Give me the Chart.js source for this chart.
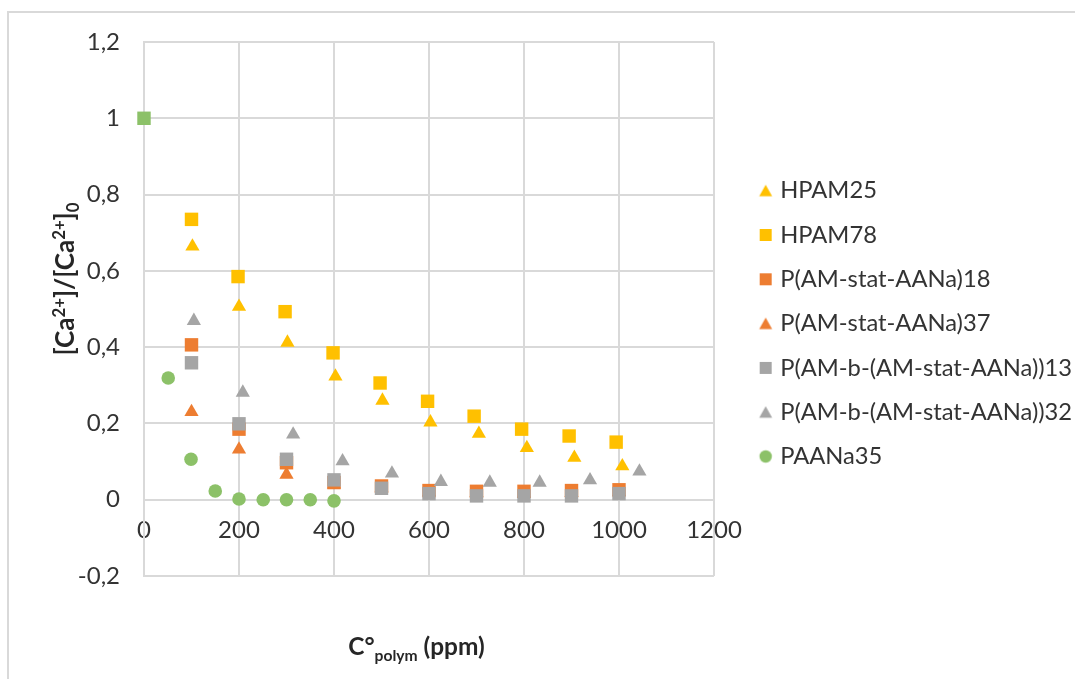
<!DOCTYPE html>
<html><head><meta charset="utf-8">
<script src="https://cdn.jsdelivr.net/npm/chart.js@4.4.1/dist/chart.umd.min.js"></script>
<style>html,body{margin:0;padding:0;background:#fff;}#wrap{position:relative;width:1075px;height:679px;}</style>
</head><body><div id="wrap"><canvas id="c"></canvas></div>
<script>
// ---------- data ----------
const seriesNames = ['HPAM25', 'HPAM78', 'P(AM-stat-AANa)18', 'P(AM-stat-AANa)37',
  'P(AM-b-(AM-stat-AANa))13', 'P(AM-b-(AM-stat-AANa))32', 'PAANa35'];
const hpam25X = [102, 200, 302, 403, 502, 603, 705, 806, 906, 1007];
const hpam25Y = [0.664, 0.506, 0.412, 0.323, 0.260, 0.203, 0.173, 0.136, 0.110, 0.088];
const hpam78X = [100, 198, 297, 398, 497, 597, 695, 795, 895, 994];
const hpam78Y = [0.735, 0.585, 0.493, 0.385, 0.306, 0.258, 0.219, 0.185, 0.167, 0.151];
const stat18X = [100, 200, 300, 400, 500, 600, 700, 800, 900, 1000];
const stat18Y = [0.406, 0.185, 0.097, 0.045, 0.036, 0.024, 0.022, 0.022, 0.024, 0.026];
const stat37X = [100, 200, 300, 400, 500, 600, 700, 800, 900, 1000];
const stat37Y = [0.230, 0.132, 0.066, 0.040, 0.030, 0.020, 0.018, 0.016, 0.018, 0.020];
const block13X = [100, 200, 300, 400, 500, 600, 700, 800, 900, 1000];
const block13Y = [0.359, 0.199, 0.106, 0.052, 0.030, 0.016, 0.010, 0.010, 0.010, 0.016];
const block32X = [105, 208, 314, 418, 522, 625, 728, 833, 939, 1043];
const block32Y = [0.469, 0.281, 0.171, 0.101, 0.069, 0.047, 0.045, 0.045, 0.051, 0.074];
const paanaX = [51, 99, 150, 200, 251, 300, 350, 400];
const paanaY = [0.319, 0.106, 0.023, 0.002, 0.000, 0.000, 0.000, -0.003];
const startX = [0];
const startY = [1];
const xTickValues = [0, 200, 400, 600, 800, 1000, 1200];
const yTickValues = [-0.2, 0, 0.2, 0.4, 0.6, 0.8, 1, 1.2];

// ---------- styling ----------
const YELLOW = '#FFC000', ORANGE = '#ED7D31', GREY = '#A5A5A5', GREEN = '#8CC168';
const GRID = '#d9d9d9';
const TEXT = '#333333';
const FAMILY = 'Lato, "Open Sans", sans-serif';
const CANVAS_W = 1075, PLOT_RIGHT = 714, PLOT_LEFT = 144, PLOT_TOP = 42, PLOT_BOTTOM = 576;

const mctx = document.createElement('canvas').getContext('2d');
function fitSize(text, weight, target) {
  mctx.font = weight + ' 100px ' + FAMILY;
  return 100 * target / mctx.measureText(text).width;
}
const legendFS = fitSize('P(AM-b-(AM-stat-AANa))13', 'normal', 292);
const tickFS = 24;
const titleFS = legendFS;

function pts(xs, ys) { return xs.map((x, i) => ({ x: x, y: ys[i] })); }

function marker(shape, color) {
  const c = document.createElement('canvas');
  c.width = 16; c.height = 16;
  const g = c.getContext('2d');
  g.fillStyle = color;
  g.beginPath();
  if (shape === 'rect') g.rect(2, 2, 12, 12);
  else if (shape === 'triangle') { g.moveTo(8, 2); g.lineTo(14.5, 13.5); g.lineTo(1.5, 13.5); g.closePath(); }
  else g.arc(8, 8, 6.2, 0, Math.PI * 2);
  g.fill();
  return c;
}

const defs = [
  [hpam25X, hpam25Y, 'triangle', YELLOW],
  [hpam78X, hpam78Y, 'rect', YELLOW],
  [stat18X, stat18Y, 'rect', ORANGE],
  [stat37X, stat37Y, 'triangle', ORANGE],
  [block13X, block13Y, 'rect', GREY],
  [block32X, block32Y, 'triangle', GREY],
  [paanaX, paanaY, 'circle', GREEN],
];
const radius = { rect: 9.5, triangle: 8.2, circle: 6.8 };
const legendMarkers = defs.map(d => marker(d[2], d[3]));

const datasets = defs.map((d, i) => ({
  label: seriesNames[i],
  data: pts(d[0], d[1]),
  pointStyle: d[2],
  pointRadius: radius[d[2]],
  pointHoverRadius: radius[d[2]],
  backgroundColor: d[3],
  borderColor: d[3],
  pointBorderWidth: 0,
  showLine: false,
  clip: false,
  order: 20 - i
}));
datasets.push({
  label: 'start',
  data: pts(startX, startY),
  pointStyle: 'rect',
  pointRadius: 9.5,
  backgroundColor: GREEN,
  borderColor: GREEN,
  pointBorderWidth: 0,
  showLine: false,
  clip: false,
  order: 0
});

function fmt(v) {
  const r = Math.round(v * 10) / 10;
  return String(r).replace('.', ',');
}

const LEG_PAD = 44.3 - legendFS;
const PSW = Math.max(1, 29 - legendFS);

// legend box takes exactly the space right of the plot area
const LegendEl = Chart.Legend && Chart.Legend._element;
if (LegendEl) {
  const origFit = LegendEl.prototype.fit;
  LegendEl.prototype.fit = function () {
    origFit.call(this);
    if (this.options.display && this.options.position === 'right') this.width = CANVAS_W - PLOT_RIGHT;
  };
}

function drawRich(ctx, segs, x, y) {
  let total = 0;
  segs.forEach(s => { ctx.font = 'bold ' + s.size + 'px ' + FAMILY; s.w = ctx.measureText(s.t).width; total += s.w; });
  let cx = x - total / 2;
  segs.forEach(s => { ctx.font = 'bold ' + s.size + 'px ' + FAMILY; ctx.fillText(s.t, cx, y + s.dy); cx += s.w; });
}

const decor = {
  id: 'decor',
  beforeDraw(chart) {
    const ctx = chart.ctx;
    ctx.save();
    ctx.strokeStyle = GRID; ctx.lineWidth = 2;
    ctx.beginPath();
    ctx.moveTo(8, 679); ctx.lineTo(8, 12); ctx.lineTo(1075, 12);
    ctx.stroke();
    ctx.restore();
  },
  afterLayout(chart) {
    const lg = chart.legend;
    if (!lg) return;
    const w = lg.right - lg.left;
    lg.left = 763 - LEG_PAD;
    lg.right = lg.left + w + 60;
    lg.top = 190.7 - LEG_PAD - legendFS / 2;
    lg.bottom = 900;
    lg.width = lg.right - lg.left;
    lg.height = lg.bottom - lg.top;
  },
  afterDraw(chart) {
    const ctx = chart.ctx;
    ctx.save();
    ctx.fillStyle = '#262626';
    ctx.textBaseline = 'alphabetic';
    ctx.textAlign = 'left';
    const f = titleFS * 1.03, s = f * 0.64;
    drawRich(ctx, [
      { t: 'C°', size: f, dy: 0 },
      { t: 'polym', size: s, dy: f * 0.25 },
      { t: ' (ppm)', size: f, dy: 0 }
    ], 416.5, 655);
    const fy = titleFS * 1.1, sy = fy * 0.64;
    ctx.translate(74, 279);
    ctx.rotate(-Math.PI / 2);
    drawRich(ctx, [
      { t: '[Ca', size: fy, dy: 0 },
      { t: '2+', size: sy, dy: -fy * 0.36 },
      { t: ']/[Ca', size: fy, dy: 0 },
      { t: '2+', size: sy, dy: -fy * 0.36 },
      { t: ']', size: fy, dy: 0 },
      { t: '0', size: sy, dy: fy * 0.2 }
    ], 0, 0);
    ctx.restore();
  }
};

new Chart(document.getElementById('c'), {
  type: 'scatter',
  data: { datasets: datasets },
  plugins: [decor],
  options: {
    responsive: true,
    maintainAspectRatio: false,
    animation: false,
    events: [],
    layout: { padding: { left: 0, top: PLOT_TOP, right: 0, bottom: 679 - PLOT_BOTTOM } },
    plugins: {
      tooltip: { enabled: false },
      legend: {
        position: 'right',
        align: 'start',
        labels: {
          usePointStyle: true,
          pointStyleWidth: PSW,
          padding: LEG_PAD,
          color: TEXT,
          font: { family: FAMILY, size: legendFS },
          filter: (item) => item.datasetIndex < seriesNames.length,
          sort: (a, b) => a.datasetIndex - b.datasetIndex,
          generateLabels(chart) {
            const items = Chart.defaults.plugins.legend.labels.generateLabels(chart);
            items.forEach(it => { if (legendMarkers[it.datasetIndex]) it.pointStyle = legendMarkers[it.datasetIndex]; });
            return items;
          }
        }
      }
    },
    scales: {
      x: {
        type: 'linear',
        position: { y: 0 },
        min: 0, max: 1200,
        afterBuildTicks: (s) => { s.ticks = xTickValues.map(v => ({ value: v })); },
        ticks: { color: TEXT, font: { family: FAMILY, size: tickFS }, padding: 16, maxRotation: 0, autoSkip: false, callback: (v) => String(v) },
        grid: { color: GRID, lineWidth: 2, drawTicks: false },
        border: { color: GRID, width: 2 }
      },
      y: {
        type: 'linear',
        min: -0.2, max: 1.2,
        afterBuildTicks: (s) => { s.ticks = yTickValues.map(v => ({ value: v })); },
        afterFit: (s) => { s.width = PLOT_LEFT; },
        ticks: { color: TEXT, font: { family: FAMILY, size: tickFS }, padding: 24, callback: (v) => fmt(v), autoSkip: false },
        grid: { color: GRID, lineWidth: 2, drawTicks: false },
        border: { color: GRID, width: 2 }
      }
    }
  }
});
</script>
</body></html>
